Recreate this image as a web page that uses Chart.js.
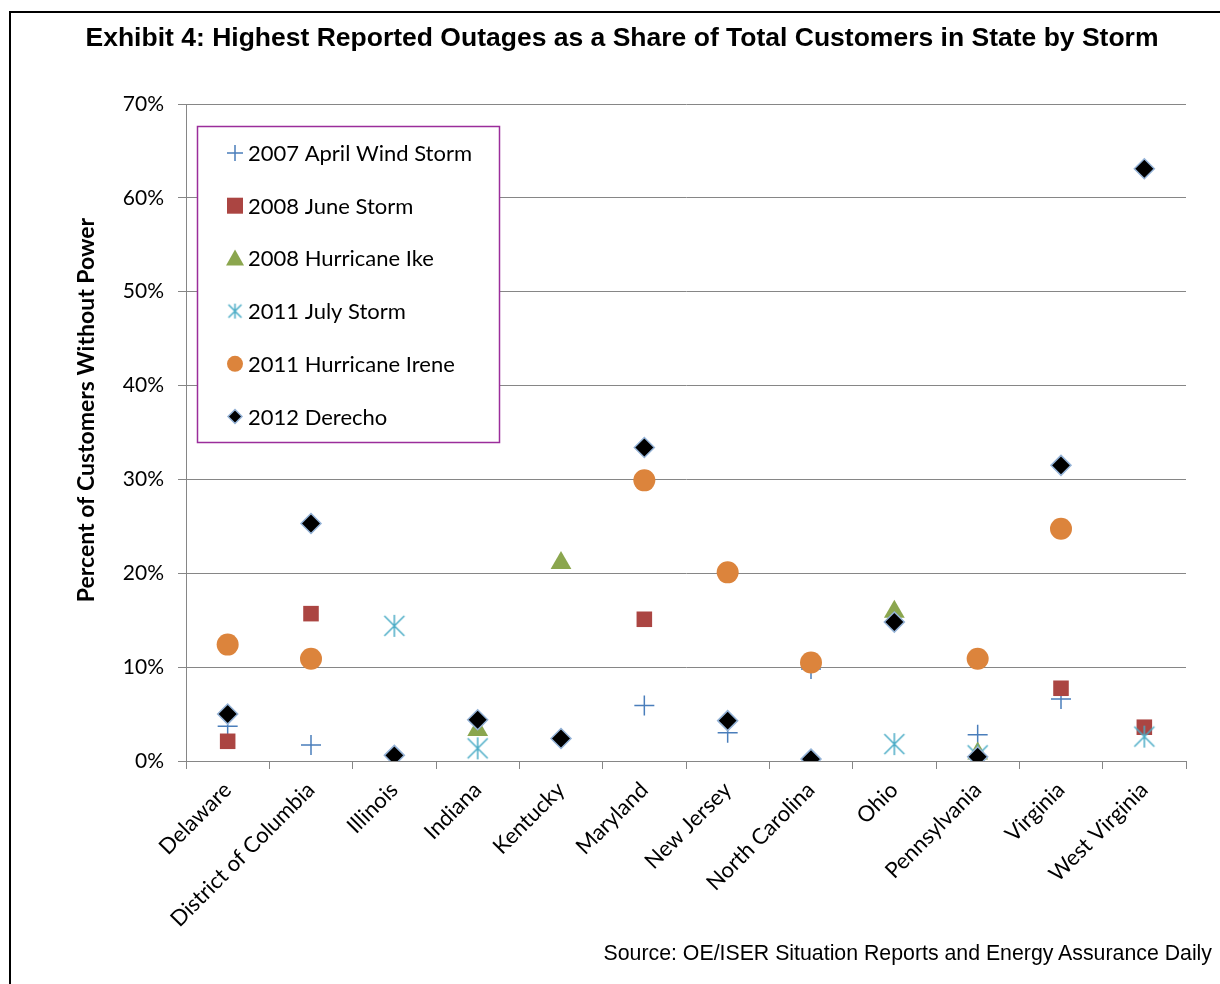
<!DOCTYPE html>
<html>
<head>
<meta charset="utf-8">
<script src="https://cdn.jsdelivr.net/npm/chart.js@4.4.1/dist/chart.umd.min.js"></script>
<style>
html, body { margin: 0; padding: 0; background: #fff; overflow: hidden; }
#wrap { position: relative; width: 1220px; height: 984px; }
#frame { position: absolute; left: 9px; top: 11px; width: 1400px; height: 1200px; border: 2px solid #000; box-sizing: border-box; }
#title { position: absolute; left: 0; top: 22px; width: 1244px; text-align: center; font: bold 26.5px "Liberation Sans", Arial, sans-serif; color: #000; }
#source { position: absolute; right: 8px; top: 941px; font: 21.3px "Liberation Sans", Arial, sans-serif; color: #000; }
canvas { position: absolute; left: 0; top: 0; }
</style>
</head>
<body>
<div id="wrap">
  <div id="frame"></div>
  <canvas id="outage_chart" width="1220" height="984"></canvas>
  <div id="title">Exhibit 4: Highest Reported Outages as a Share of Total Customers in State by Storm</div>
  <div id="source">Source: OE/ISER Situation Reports and Energy Assurance Daily</div>
</div>
<script>
// data read off the exhibit (percent of customers without power)
const states = ['Delaware', 'District of Columbia', 'Illinois', 'Indiana', 'Kentucky', 'Maryland',
    'New Jersey', 'North Carolina', 'Ohio', 'Pennsylvania', 'Virginia', 'West Virginia'];
const windStorm2007 = [3.7, 1.7, null, null, null, 5.9, 3.0, 9.8, null, 2.8, 6.6, null];
const juneStorm2008 = [2.1, 15.7, null, null, null, 15.1, null, null, null, null, 7.75, 3.6];
const ike2008 = [null, null, null, 3.3, 21.1, null, null, null, 15.9, 0.8, null, null];
const julyStorm2011 = [null, null, 14.4, 1.35, null, null, null, null, 1.8, 0.6, null, 2.6];
const irene2011 = [12.4, 10.9, null, null, null, 29.9, 20.1, 10.5, null, 10.9, 24.75, null];
const derecho2012 = [5.0, 25.3, 0.6, 4.4, 2.4, 33.4, 4.3, 0.2, 14.8, 0.45, 31.5, 63.1];
const yMax = 70;
const yStep = 10;

// excel style asterisk (x plus a vertical bar)
function asterisk(size, color){
    const c = document.createElement('canvas');
    c.width = size; c.height = size;
    const g = c.getContext('2d');
    g.strokeStyle = color;
    g.lineWidth = 1.5;
    g.beginPath();
    g.moveTo(size/2, 1); g.lineTo(size/2, size-1);
    g.moveTo(2, 2); g.lineTo(size-2, size-2);
    g.moveTo(size-2, 2); g.lineTo(2, size-2);
    g.stroke();
    return c;
}

const teal = '#4BACC6';
const starBig = asterisk(24, teal);
const starSmall = asterisk(17, teal);

function series(label, data, style, radius, fill, border, width){
    return {
        label: label,
        data: data,
        showLine: false,
        pointStyle: style,
        pointRadius: radius,
        backgroundColor: fill,
        borderColor: border,
        borderWidth: width
    };
}

const datasets = [
    series('2007 April Wind Storm', windStorm2007, 'cross', 10, '#4A7EBB', '#4A7EBB', 1.5),
    series('2008 June Storm', juneStorm2008, 'rect', 11, '#AB4542', '#AB4542', 0),
    series('2008 Hurricane Ike', ike2008, 'triangle', 12, '#8BA64E', '#8BA64E', 0),
    series('2011 July Storm', julyStorm2011, starBig, 12, teal, teal, 1),
    series('2011 Hurricane Irene', irene2011, 'circle', 11, '#DC843C', '#DC843C', 0),
    series('2012 Derecho', derecho2012, 'rectRot', 10, '#000000', '#95B3D7', 1.5)
];
// later series sit on top, like the original
datasets.forEach(function(d, i){ d.order = datasets.length - i; });

const legendMarks = ['cross', 'rect', 'triangle', 'star', 'circle', 'rectRot'];

function drawMark(ctx, kind, x, y, d){
    ctx.save();
    ctx.fillStyle = d.backgroundColor;
    ctx.strokeStyle = d.borderColor;
    ctx.lineWidth = 1.5;
    ctx.beginPath();
    if (kind === 'cross') {
        ctx.moveTo(x-8, y); ctx.lineTo(x+8, y);
        ctx.moveTo(x, y-8); ctx.lineTo(x, y+8);
        ctx.stroke();
    } else if (kind === 'rect') {
        ctx.fillRect(x-8, y-8, 16, 16);
    } else if (kind === 'triangle') {
        ctx.moveTo(x, y-9); ctx.lineTo(x+9, y+7); ctx.lineTo(x-9, y+7); ctx.closePath();
        ctx.fill();
    } else if (kind === 'star') {
        ctx.drawImage(starSmall, x-8.5, y-8.5);
    } else if (kind === 'circle') {
        ctx.arc(x, y, 8, 0, Math.PI*2);
        ctx.fill();
    } else {
        ctx.moveTo(x, y-7); ctx.lineTo(x+7, y); ctx.lineTo(x, y+7); ctx.lineTo(x-7, y); ctx.closePath();
        ctx.fill(); ctx.stroke();
    }
    ctx.restore();
}

const boxLegend = {
    id: 'boxLegend',
    afterDatasetsDraw: function(chart){
        const ctx = chart.ctx;
        ctx.save();
        ctx.fillStyle = '#fff';
        ctx.fillRect(197, 126, 303, 317);
        ctx.strokeStyle = '#9B2D9B';
        ctx.lineWidth = 1.5;
        ctx.strokeRect(197.5, 126.5, 302, 316);
        ctx.font = '22px Lato';
        ctx.fillStyle = '#000';
        ctx.textBaseline = 'middle';
        chart.data.datasets.forEach(function(d, i){
            const y = 153 + i * 52.7;
            drawMark(ctx, legendMarks[i], 235, y, d);
            ctx.fillText(d.label, 248, y + 1);
        });
        ctx.restore();
    }
};

const yTitle = {
    id: 'yTitle',
    afterDraw: function(chart){
        const ctx = chart.ctx;
        ctx.save();
        ctx.translate(87, 410);
        ctx.rotate(-Math.PI/2);
        ctx.font = 'bold 23px Lato';
        ctx.fillStyle = '#000';
        ctx.textAlign = 'center';
        ctx.textBaseline = 'middle';
        ctx.fillText('Percent of Customers Without Power', 0, 0);
        ctx.restore();
    }
};

Chart.defaults.font.family = 'Lato';
Chart.defaults.color = '#000';

const outage_chart = new Chart(document.getElementById('outage_chart'), {
    type: 'line',
    data: { labels: states, datasets: datasets },
    options: {
        responsive: false,
        animation: false,
        events: [],
        layout: { padding: { top: 104, right: 34, left: 0, bottom: 0 } },
        plugins: { legend: { display: false }, tooltip: { enabled: false } },
        scales: {
            x: {
                offset: true,
                grid: { offset: true, drawOnChartArea: false, tickLength: 8, color: '#868686', lineWidth: 1 },
                border: { color: '#868686' },
                ticks: { autoSkip: false, maxRotation: 45, minRotation: 45, padding: 8, font: { size: 22 } },
                afterFit: function(s){ s.height = 223; }
            },
            y: {
                min: 0,
                max: yMax,
                grid: { color: '#868686', lineWidth: 1, tickLength: 8 },
                border: { color: '#868686' },
                ticks: { stepSize: yStep, padding: 14, font: { size: 21 }, callback: function(v){ return v + '%'; } },
                afterFit: function(s){ s.width = 186; }
            }
        }
    },
    plugins: [boxLegend, yTitle]
});
</script>
</body>
</html>
